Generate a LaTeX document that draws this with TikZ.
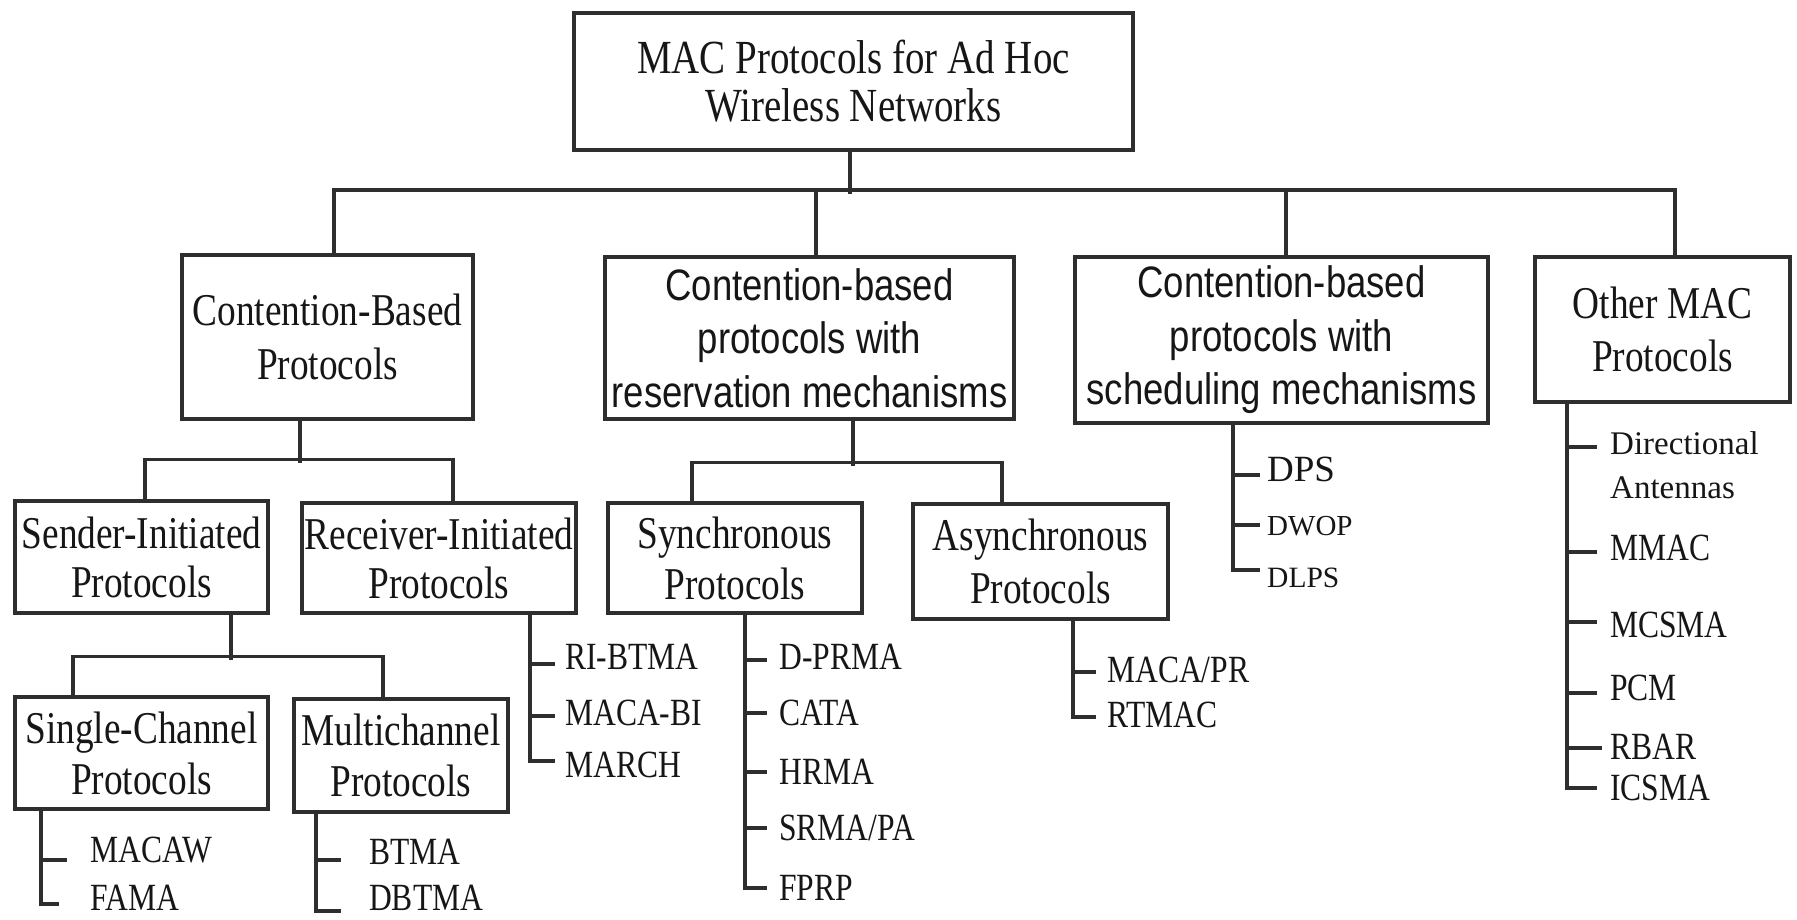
\documentclass[tikz,border=0pt]{standalone}
\usepackage{fontspec}
\setmainfont[FakeStretch=0.82]{Liberation Serif}
\newfontfamily\plainserif{Liberation Serif}
\newfontfamily\narrowsans[FakeStretch=0.83]{Liberation Sans}
\newcommand\boxfont{\fontsize{45.5}{51}\selectfont}
\newcommand\sansboxfont{\narrowsans\fontsize{44}{53.5}\selectfont}
\newcommand\listfont{\fontsize{38.5}{44}\selectfont}
\definecolor{linec}{HTML}{2E2E2E}
\definecolor{textc}{HTML}{161616}
\begin{document}
\begin{tikzpicture}[x=1pt,y=-1pt,
  conn/.style={draw=linec,line width=3.5pt},
  box/.style={draw=linec,line width=3.5pt,inner sep=0pt,align=center,font=\boxfont,text=textc},
  sbox/.style={box,font=\sansboxfont},
  item/.style={anchor=west,inner sep=0pt,font=\listfont,text=textc}]
\fill[white] (0,0) rectangle (1797,920);
\useasboundingbox (0,0) rectangle (1797,920);

% boxes
\node[box,minimum width=559pt,minimum height=137pt,font=\fontsize{47.5}{48}\selectfont] (top) at (853.5,81.5) {MAC Protocols for Ad Hoc\\Wireless Networks};
\node[box,minimum width=291pt,minimum height=164pt,font=\fontsize{45.5}{54}\selectfont] (cb) at (327.5,337) {Contention-Based\\Protocols};
\node[sbox,minimum width=409pt,minimum height=162pt] (res) at (809.5,338) {Contention-based\\protocols with\\reservation mechanisms};
\node[sbox,minimum width=413pt,minimum height=166pt] (sch) at (1281.5,340) {Contention-based\\protocols with\\scheduling mechanisms};
\node[box,minimum width=255pt,minimum height=145pt,font=\fontsize{45.5}{53}\selectfont] (oth) at (1662.5,329.5) {Other MAC\\Protocols};
\node[box,minimum width=253pt,minimum height=112pt,font=\fontsize{45.5}{49}\selectfont] (sen) at (141.5,557) {Sender-Initiated\\Protocols};
\node[box,minimum width=274pt,minimum height=110pt,font=\fontsize{45.5}{49}\selectfont] (rec) at (439,558) {Receiver-Initiated\\Protocols};
\node[box,minimum width=254pt,minimum height=110pt] (syn) at (735,558) {Synchronous\\Protocols};
\node[box,minimum width=255pt,minimum height=115pt,font=\fontsize{45.5}{53}\selectfont] (asy) at (1040.5,561.5) {Asynchronous\\Protocols};
\node[box,minimum width=253pt,minimum height=112pt] (sin) at (141.5,753) {Single-Channel\\Protocols};
\node[box,minimum width=214pt,minimum height=113pt] (mul) at (401,755.5) {Multichannel\\Protocols};

% tree connectors
\draw[conn] ([xshift=-3.5pt]top.south) -- ++(0,42);
\draw[conn] ([xshift=6.5pt]cb.north) -- ++(0,-63) -| ([xshift=12.5pt]oth.north);
\draw[conn] ([xshift=6.5pt]res.north) -- ++(0,-65);
\draw[conn] ([xshift=4.5pt]sch.north) -- ++(0,-65);

\draw[conn] ([xshift=-27.5pt]cb.south) -- ++(0,42);
\draw[conn] ([xshift=3.5pt]sen.north) -- ++(0,-40) -| ([xshift=14pt]rec.north);

\draw[conn] ([xshift=43.5pt]res.south) -- ++(0,45);
\draw[conn] ([xshift=-43pt]syn.north) -- ++(0,-39) -| ([xshift=-38.5pt]asy.north);

\draw[conn] ([xshift=89.5pt]sen.south) -- ++(0,45);
\draw[conn] ([xshift=-68.5pt]sin.north) -- ++(0,-39) -| ([xshift=-18pt]mul.north);

% single-channel list
\node[item] (macaw) at (90,850) {MACAW};
\node[item] (fama) at (90,898) {FAMA};
\draw[conn] ([xshift=-100.5pt]sin.south) |- ([xshift=-23pt,yshift=-10pt]macaw.west);
\draw[conn] ([xshift=-100.5pt]sin.south) |- ([xshift=-31pt,yshift=-6pt]fama.west);

% multichannel list
\node[item] (btma) at (369,852) {BTMA};
\node[item] (dbtma) at (369,898) {DBTMA};
\draw[conn] ([xshift=-85pt]mul.south) |- ([xshift=-28pt,yshift=-8pt]btma.west);
\draw[conn] ([xshift=-85pt]mul.south) |- ([xshift=-28pt,yshift=-13pt]dbtma.west);

% receiver-initiated list
\node[item] (ribtma) at (565,657) {RI-BTMA};
\node[item] (macabi) at (565,713) {MACA-BI};
\node[item] (march) at (565,765) {MARCH};
\draw[conn] ([xshift=91pt]rec.south) |- ([xshift=-10pt,yshift=-7pt]ribtma.west);
\draw[conn] ([xshift=91pt]rec.south) |- ([xshift=-10pt,yshift=-3pt]macabi.west);
\draw[conn] ([xshift=91pt]rec.south) |- ([xshift=-10pt,yshift=4pt]march.west);

% synchronous list
\node[item] (dprma) at (779,657) {D-PRMA};
\node[item] (cata) at (779,713) {CATA};
\node[item] (hrma) at (779,772) {HRMA};
\node[item] (srma) at (779,828) {SRMA/PA};
\node[item] (fprp) at (779,888) {FPRP};
\draw[conn] ([xshift=10pt]syn.south) |- ([xshift=-12pt,yshift=-3pt]dprma.west);
\draw[conn] ([xshift=10pt]syn.south) |- ([xshift=-12pt]cata.west);
\draw[conn] ([xshift=10pt]syn.south) |- ([xshift=-12pt]hrma.west);
\draw[conn] ([xshift=10pt]syn.south) |- ([xshift=-12pt]srma.west);
\draw[conn] ([xshift=10pt]syn.south) |- ([xshift=-12pt]fprp.west);

% asynchronous list
\node[item] (macapr) at (1107,670) {MACA/PR};
\node[item] (rtmac) at (1107,715) {RTMAC};
\draw[conn] ([xshift=32.5pt]asy.south) |- ([xshift=-11pt,yshift=-2pt]macapr.west);
\draw[conn] ([xshift=32.5pt]asy.south) |- ([xshift=-11pt,yshift=-2pt]rtmac.west);

% scheduling list
\node[item,font=\plainserif\fontsize{37}{40}\selectfont] (dps) at (1267,469) {DPS};
\node[item,font=\plainserif\fontsize{29}{34}\selectfont] (dwop) at (1267,526) {DWOP};
\node[item,font=\plainserif\fontsize{29.5}{34}\selectfont] (dlps) at (1267,578) {DLPS};
\draw[conn] ([xshift=-48.5pt]sch.south) |- ([xshift=-7pt,yshift=-6pt]dps.west);
\draw[conn] ([xshift=-48.5pt]sch.south) |- ([xshift=-7pt,yshift=1pt]dwop.west);
\draw[conn] ([xshift=-48.5pt]sch.south) |- ([xshift=-7pt,yshift=8pt]dlps.west);

% other MAC list
\node[item,align=left,font=\plainserif\fontsize{33}{44}\selectfont] (dir) at (1610,465) {Directional\\Antennas};
\node[item] (mmac) at (1610,548) {MMAC};
\node[item] (mcsma) at (1610,625) {MCSMA};
\node[item] (pcm) at (1610,688) {PCM};
\node[item] (rbar) at (1610,747) {RBAR};
\node[item] (icsma) at (1610,788) {ICSMA};
\draw[conn] ([xshift=-95.5pt]oth.south) |- ([xshift=-13pt,yshift=18pt]dir.west);
\draw[conn] ([xshift=-95.5pt]oth.south) |- ([xshift=-13pt,yshift=-4pt]mmac.west);
\draw[conn] ([xshift=-95.5pt]oth.south) |- ([xshift=-13pt,yshift=3pt]mcsma.west);
\draw[conn] ([xshift=-95.5pt]oth.south) |- ([xshift=-13pt,yshift=-5pt]pcm.west);
\draw[conn] ([xshift=-95.5pt]oth.south) |- ([xshift=-8pt,yshift=-1pt]rbar.west);
\draw[conn] ([xshift=-95.5pt]oth.south) |- ([xshift=-13pt]icsma.west);
\end{tikzpicture}
\end{document}
